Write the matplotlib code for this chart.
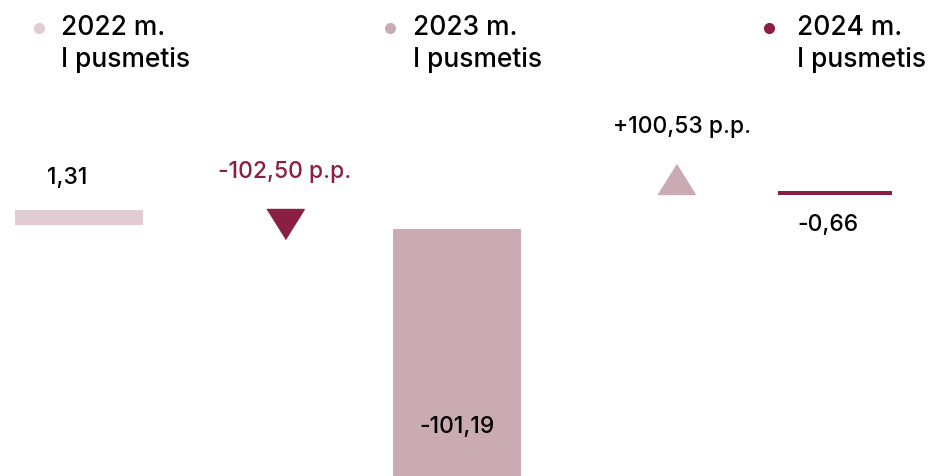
import matplotlib.pyplot as plt

plt.rcParams['font.family'] = ['Inter', 'DejaVu Sans']

periods = ['2022 m.', '2023 m.', '2024 m.']
period_sub = 'I pusmetis'
values = [1.31, -101.19, -0.66]
value_labels = ['1,31', '-101,19', '-0,66']
changes = [-102.50, 100.53]
change_labels = ['-102,50 p.p.', '+100,53 p.p.']
colors = ['#E0CCD2', '#CBABB3', '#8B1E43']

W, H = 935, 477
x0, step = 79, 378
fig = plt.figure(figsize=(W / 100, H / 100), dpi=100)
ax = fig.add_axes([0, 0, 1, 1])
ax.set_xlim(-x0 / step, (W - x0) / step)
ax.set_ylim(-101.19, 94.2)
ax.axis('off')

# small bars are drawn with a minimum visible height, shifted above the baseline
min_h = [6.2, 0, 1.7]
offset = [1.6, 0, 13.9]
widths = [0.34, 0.34, 0.30]
for i, v in enumerate(values):
    h = v if min_h[i] == 0 else min_h[i]
    ax.bar(i, h, bottom=offset[i], width=widths[i], color=colors[i], linewidth=0)

fs = 16.5
fw = 'medium'
# value labels
ax.text(-0.03, 21.3, value_labels[0], ha='center', va='center', fontsize=fs, fontweight=fw, color='black')
ax.text(1.0, -80.7, value_labels[1], ha='center', va='center', fontsize=fs, fontweight=fw, color='black')
ax.text(1.98, 2.0, value_labels[2], ha='center', va='center', fontsize=fs, fontweight=fw, color='black')

# change markers between the bars
down = [(-1, 0.8), (1, 0.8), (0, -0.8)]
up = [(-1, -0.8), (1, -0.8), (0, 0.8)]
chg_x = [0.545, 1.58]
chg_y = [1.84, 20.5]
chg_colors = ['#8B1E43', '#CBABB3']
for j, c in enumerate(changes):
    ax.plot(chg_x[j], chg_y[j], marker=down if c < 0 else up, markersize=27,
            color=chg_colors[j], linestyle='none')
ax.text(0.545, 23.8, change_labels[0], ha='center', va='center', fontsize=fs, fontweight=fw, color='#8B1E43')
ax.text(1.595, 42.2, change_labels[1], ha='center', va='center', fontsize=fs, fontweight=fw, color='black')

# legend along the top
leg_dot_x = [39, 390, 769]
leg_txt_x = [61, 413, 797]
for i, p in enumerate(periods):
    fig.lines.append(plt.Line2D([leg_dot_x[i] / W], [1 - 29 / H], marker='o', markersize=7,
                                color=colors[i], transform=fig.transFigure))
    fig.text(leg_txt_x[i] / W, 1 - 28 / H, p, ha='left', va='center', fontsize=19, fontweight=fw)
    fig.text(leg_txt_x[i] / W, 1 - 60 / H, period_sub, ha='left', va='center', fontsize=19, fontweight=fw)

fig.savefig('out.png', dpi=100)
